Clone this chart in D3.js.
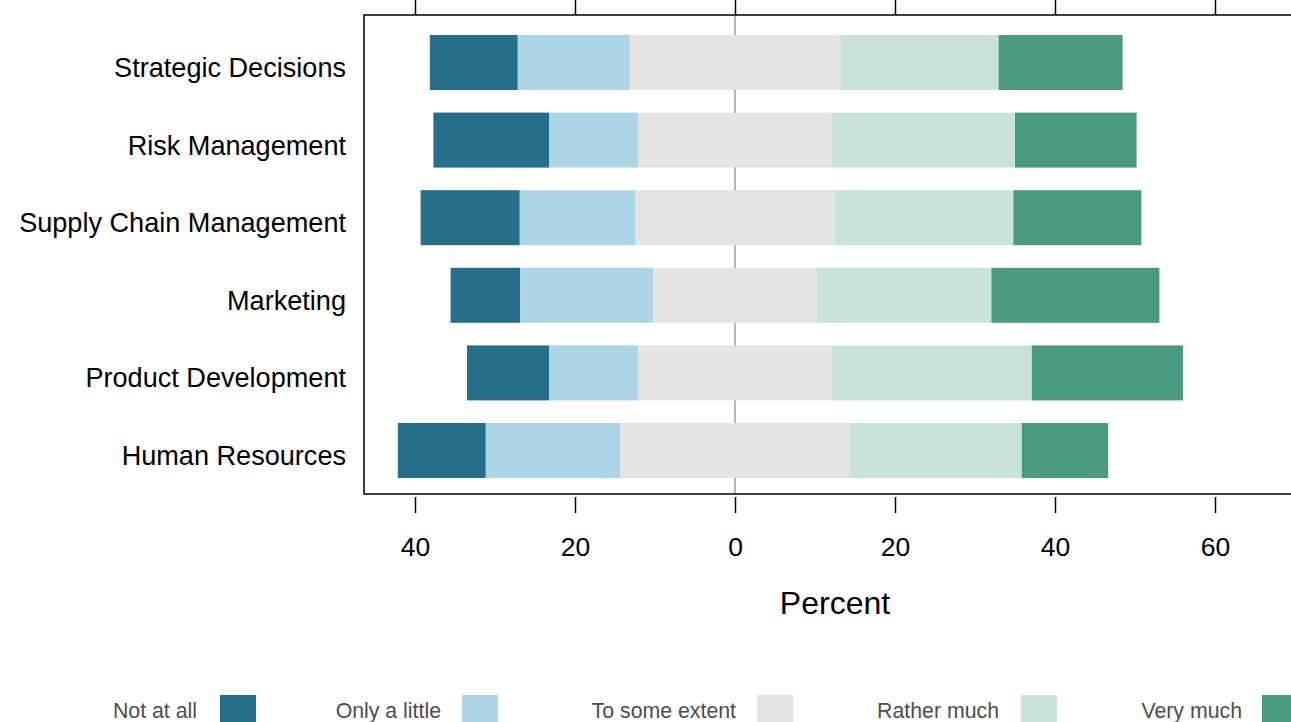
<!DOCTYPE html>
<html>
<head>
<meta charset="utf-8">
<script src="https://cdn.jsdelivr.net/npm/d3@7"></script>
<style>
  html, body { margin: 0; padding: 0; background: #fff; overflow: hidden; }
  svg { display: block; font-family: "Liberation Sans", Arial, sans-serif; }
</style>
</head>
<body>
<svg id="chart" width="1291" height="722"></svg>
<script>
const categories = ["Strategic Decisions", "Risk Management", "Supply Chain Management", "Marketing", "Product Development", "Human Resources"];
const levels = ["Not at all", "Only a little", "To some extent", "Rather much", "Very much"];
const notAtAll     = [11.0, 14.5, 12.4,  8.7, 10.3, 11.0];
const onlyALittle  = [14.0, 11.1, 14.5, 16.6, 11.1, 16.8];
const toSomeExtent = [26.3, 24.2, 24.8, 20.5, 24.2, 28.7];
const ratherMuch   = [19.8, 22.9, 22.4, 21.8, 25.0, 21.5];
const veryMuch     = [15.5, 15.2, 16.0, 21.0, 18.9, 10.8];
const colors = ["#276e8a", "#acd5e6", "#e4e4e4", "#c8e4da", "#4a9a80"];
const xTicks = [-40, -20, 0, 20, 40, 60];

(function () {
const series = [notAtAll, onlyALittle, toSomeExtent, ratherMuch, veryMuch];

const svg = d3.select("#chart");
const pLeft = 364, pRight = 1306, pTop = 15, pBottom = 494;

const x = d3.scaleLinear().domain([-46.375, 71.375]).range([pLeft, pRight]);
const y = d3.scalePoint().domain(categories).range([62.5, 450.5]);
const barH = 55;

// zero line (under bars)
svg.append("line")
  .attr("x1", x(0)).attr("x2", x(0))
  .attr("y1", pTop).attr("y2", pBottom)
  .attr("stroke", "#9e9e9e").attr("stroke-width", 1.5);

// build segments
const segs = [];
categories.forEach((c, i) => {
  const neutralHalf = toSomeExtent[i] / 2;
  let start = -neutralHalf - onlyALittle[i] - notAtAll[i];
  series.forEach((s, k) => {
    const v = s[i];
    segs.push({cat: c, k, x0: start, x1: start + v});
    start += v;
  });
});

svg.append("g").selectAll("rect").data(segs).join("rect")
  .attr("x", d => x(d.x0))
  .attr("width", d => x(d.x1) - x(d.x0))
  .attr("y", d => y(d.cat) - barH / 2)
  .attr("height", barH)
  .attr("fill", d => colors[d.k]);

// frame
svg.append("rect")
  .attr("x", pLeft).attr("y", pTop)
  .attr("width", pRight - pLeft).attr("height", pBottom - pTop)
  .attr("fill", "none").attr("stroke", "#000").attr("stroke-width", 1.5);

// bottom axis
const axB = svg.append("g").attr("transform", `translate(0,${pBottom + 3})`)
  .call(d3.axisBottom(x).tickValues(xTicks).tickSize(16).tickPadding(24)
    .tickFormat(d => Math.abs(d)));
axB.select(".domain").remove();
axB.selectAll(".tick line").attr("stroke", "#000").attr("stroke-width", 1.5);
axB.selectAll(".tick text").attr("font-size", 26.5).attr("fill", "#000")
  .attr("font-family", "Liberation Sans, Arial, sans-serif");

// top axis ticks
const axT = svg.append("g").attr("transform", `translate(0,${pTop})`)
  .call(d3.axisTop(x).tickValues(xTicks).tickSize(16).tickFormat(""));
axT.select(".domain").remove();
axT.selectAll(".tick line").attr("stroke", "#000").attr("stroke-width", 1.5);

// y labels
svg.append("g").selectAll("text").data(categories).join("text")
  .attr("x", 346).attr("y", d => y(d) + 5)
  .attr("dy", "0.35em")
  .attr("text-anchor", "end")
  .attr("font-size", 27.1)
  .attr("fill", "#000")
  .text(d => d);

// x title
svg.append("text")
  .attr("x", (pLeft + pRight) / 2).attr("y", 614)
  .attr("text-anchor", "middle")
  .attr("font-size", 32)
  .attr("fill", "#000")
  .text("Percent");

// legend
const legTextEnd = [197, 441, 736, 999, 1242];
const legBoxX = [220, 462, 757, 1021, 1262];
const lg = svg.append("g").selectAll("g").data(levels).join("g");
lg.append("text")
  .attr("x", (d, i) => legTextEnd[i]).attr("y", 718)
  .attr("text-anchor", "end")
  .attr("font-size", 21.3)
  .attr("fill", "#4d4d4d")
  .text(d => d);
lg.append("rect")
  .attr("x", (d, i) => legBoxX[i]).attr("y", 695)
  .attr("width", 36).attr("height", 28)
  .attr("fill", (d, i) => colors[i]);
})();
</script>
</body>
</html>
